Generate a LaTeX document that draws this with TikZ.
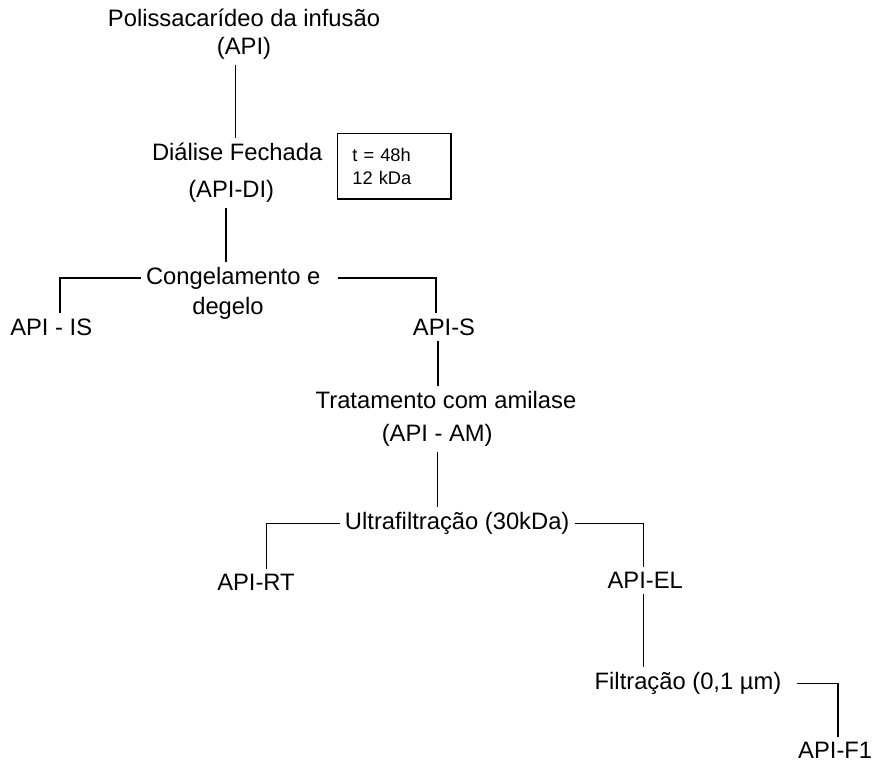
\documentclass[tikz,border=0pt]{standalone}
\usepackage{fontspec}
\setmainfont{Liberation Sans}
\usepackage{tikz}

\begin{document}
\begin{tikzpicture}[font=\fontsize{16.9}{20}\selectfont, line width=0.9pt,
    note/.style={draw, font=\fontsize{13}{16.4}\selectfont, align=left,
      text width=2.1cm, minimum width=2.83cm, minimum height=1.63cm}]
    \useasboundingbox (0,0) rectangle (21.85,-19.1);

    % Starting material
    \node[align=center] (api) at (6.1,-0.85) {Polissacarídeo da infusão\\(API)};

    % Dialysis
    \node (dia) at (5.93,-3.8) {Diálise Fechada};
    \node (apidi) at (5.78,-4.78) {(API-DI)};
    \node[note] (cond) at (9.86,-4.16) {t = 48h\\12 kDa};

    % Freeze-thaw
    \node (cong) at (5.83,-6.95) {Congelamento e};
    \node (deg) at (5.7,-7.72) {degelo};
    \node (is) at (1.28,-8.18) {API - IS};
    \node (s) at (11.1,-8.18) {API-S};

    % Amylase
    \node (tra) at (11.15,-10.0) {Tratamento com amilase};
    \node (am) at (10.93,-10.88) {(API - AM)};

    % Ultrafiltration
    \node (ultra) at (11.43,-13.08) {Ultrafiltração (30kDa)};
    \node (rt) at (6.4,-14.55) {API-RT};
    \node (el) at (16.13,-14.5) {API-EL};

    % Filtration
    \node (fil) at (17.2,-17.08) {Filtração (0,1 µm)};
    \node (f1) at (20.88,-18.76) {API-F1};

    % Connectors
    \draw (api.south -| dia.north) ++(-0.05,0) -- ([xshift=-0.05cm]dia.north);
    \draw ([xshift=-0.13cm]apidi.south) -- ([xshift=-0.13cm]apidi.south |- cong.north);
    \draw (cong.west) -| ([xshift=0.22cm]is.north);
    \draw ([xshift=0.3cm]cong.east) -| ([xshift=-0.2cm]s.north);
    \draw ([xshift=-0.15cm]s.south) -- ([xshift=-0.15cm]s.south |- tra.north);
    \draw (am.south) -- (am.south |- ultra.north);
    \draw (ultra.west) -| ([xshift=0.27cm]rt.north);
    \draw (ultra.east) -| ([xshift=-0.05cm]el.north);
    \draw ([xshift=-0.05cm]el.south) -- ([xshift=-0.05cm]el.south |- fil.north);
    \draw ([xshift=0.25cm]fil.east) -| ([xshift=0.07cm]f1.north);
\end{tikzpicture}
\end{document}
